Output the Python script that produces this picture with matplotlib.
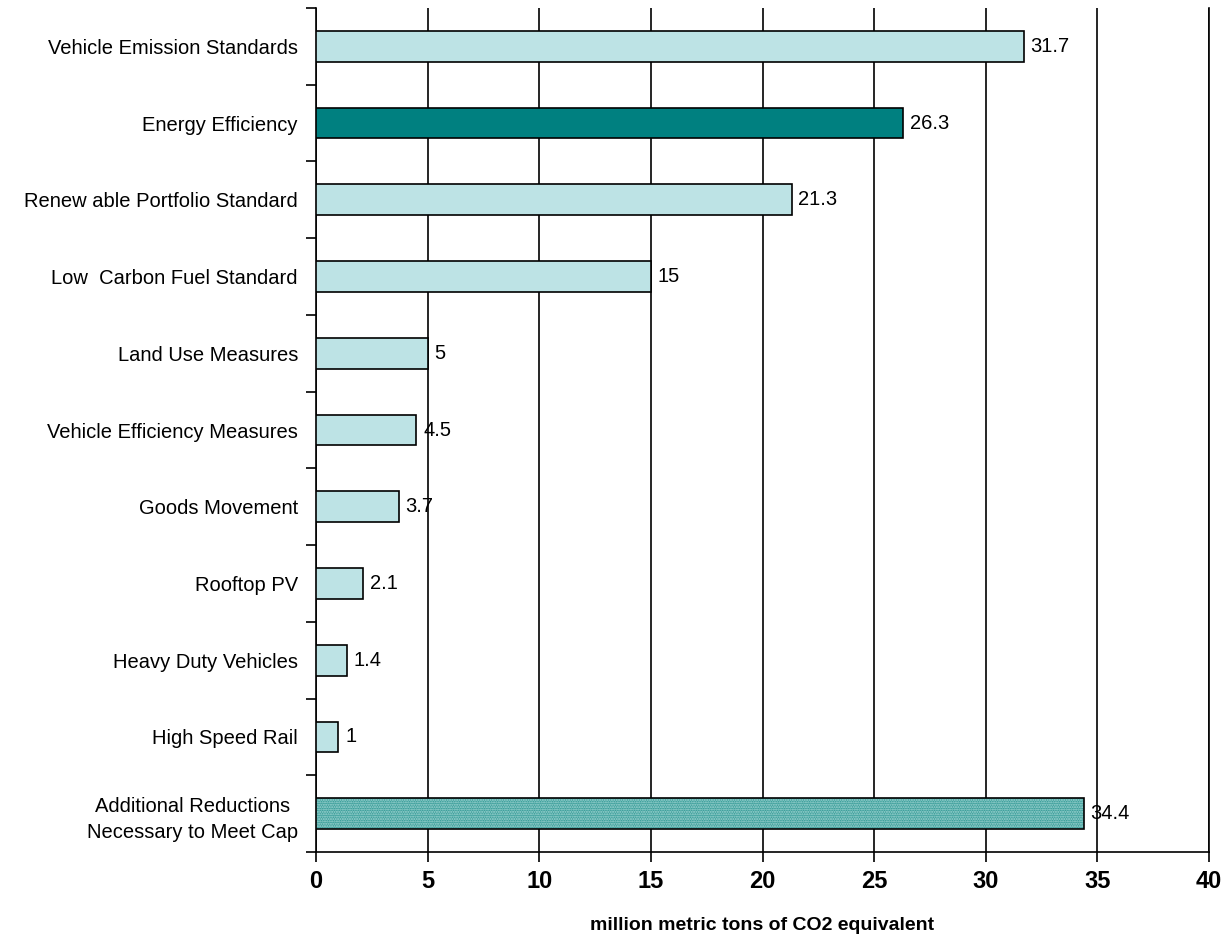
import numpy as np
import matplotlib.pyplot as plt

plt.rcParams['font.family'] = ['Liberation Sans', 'DejaVu Sans']

# Data
categories = ["Vehicle Emission Standards", "Energy Efficiency",
              "Renew able Portfolio Standard", "Low  Carbon Fuel Standard",
              "Land Use Measures", "Vehicle Efficiency Measures",
              "Goods Movement", "Rooftop PV", "Heavy Duty Vehicles",
              "High Speed Rail",
              "Additional Reductions\nNecessary to Meet Cap"]
values = [31.7, 26.3, 21.3, 15, 5, 4.5, 3.7, 2.1, 1.4, 1, 34.4]
value_labels = ["31.7", "26.3", "21.3", "15", "5", "4.5", "3.7", "2.1", "1.4", "1", "34.4"]
x_ticks = [0, 5, 10, 15, 20, 25, 30, 35, 40]

light = '#bde3e5'
dark = '#008080'

fig = plt.figure(figsize=(12.3, 9.36), dpi=100)
ax = fig.add_axes([316 / 1230, 1 - 852 / 936, (1209 - 316) / 1230, (852 - 8) / 936])

y = np.arange(len(categories))
colors = [light] * len(categories)
colors[1] = dark

# regular bars
for i in range(len(categories) - 1):
    ax.barh(y[i], values[i], height=0.4, color=colors[i], edgecolor='black',
            linewidth=1.2, zorder=3)

# dotted bar at the bottom
last = len(categories) - 1
ax.barh(y[last], values[last], height=0.4, color='#3a9e9a', edgecolor='#a8d8d6',
        hatch='.......', linewidth=0, zorder=3)
ax.barh(y[last], values[last], height=0.4, fill=False, edgecolor='black',
        linewidth=1.2, zorder=4)

for i, v in enumerate(values):
    ax.text(v + 0.3, y[i], value_labels[i], va='center', ha='left',
            fontsize=14.5, zorder=5)

ax.set_xlim(0, 40)
ax.set_ylim(len(categories) - 0.5, -0.5)
ax.set_xticks(x_ticks)
ax.set_xticklabels([str(t) for t in x_ticks], fontsize=17, fontweight='bold')
ax.tick_params(axis='x', length=7, width=1.2, pad=6, direction='out')

ax.set_yticks(y)
ylabels = ax.set_yticklabels(categories, fontsize=14.5, ha='right')
ylabels[-1].set_multialignment('center')
ylabels[-1].set_linespacing(1.5)
ax.tick_params(axis='y', which='major', length=0, pad=13)
ax.set_yticks(np.arange(-0.5, len(categories), 1), minor=True)
ax.tick_params(axis='y', which='minor', length=7, width=1.2, direction='out')

ax.xaxis.grid(True, color='black', linewidth=1.2, zorder=0)
ax.set_axisbelow(True)

ax.spines['top'].set_visible(False)
for s in ['left', 'bottom', 'right']:
    ax.spines[s].set_linewidth(1.2)

ax.set_xlabel('million metric tons of CO2 equivalent', fontsize=14,
              fontweight='bold', labelpad=17)

fig.savefig('out.png', dpi=100)
